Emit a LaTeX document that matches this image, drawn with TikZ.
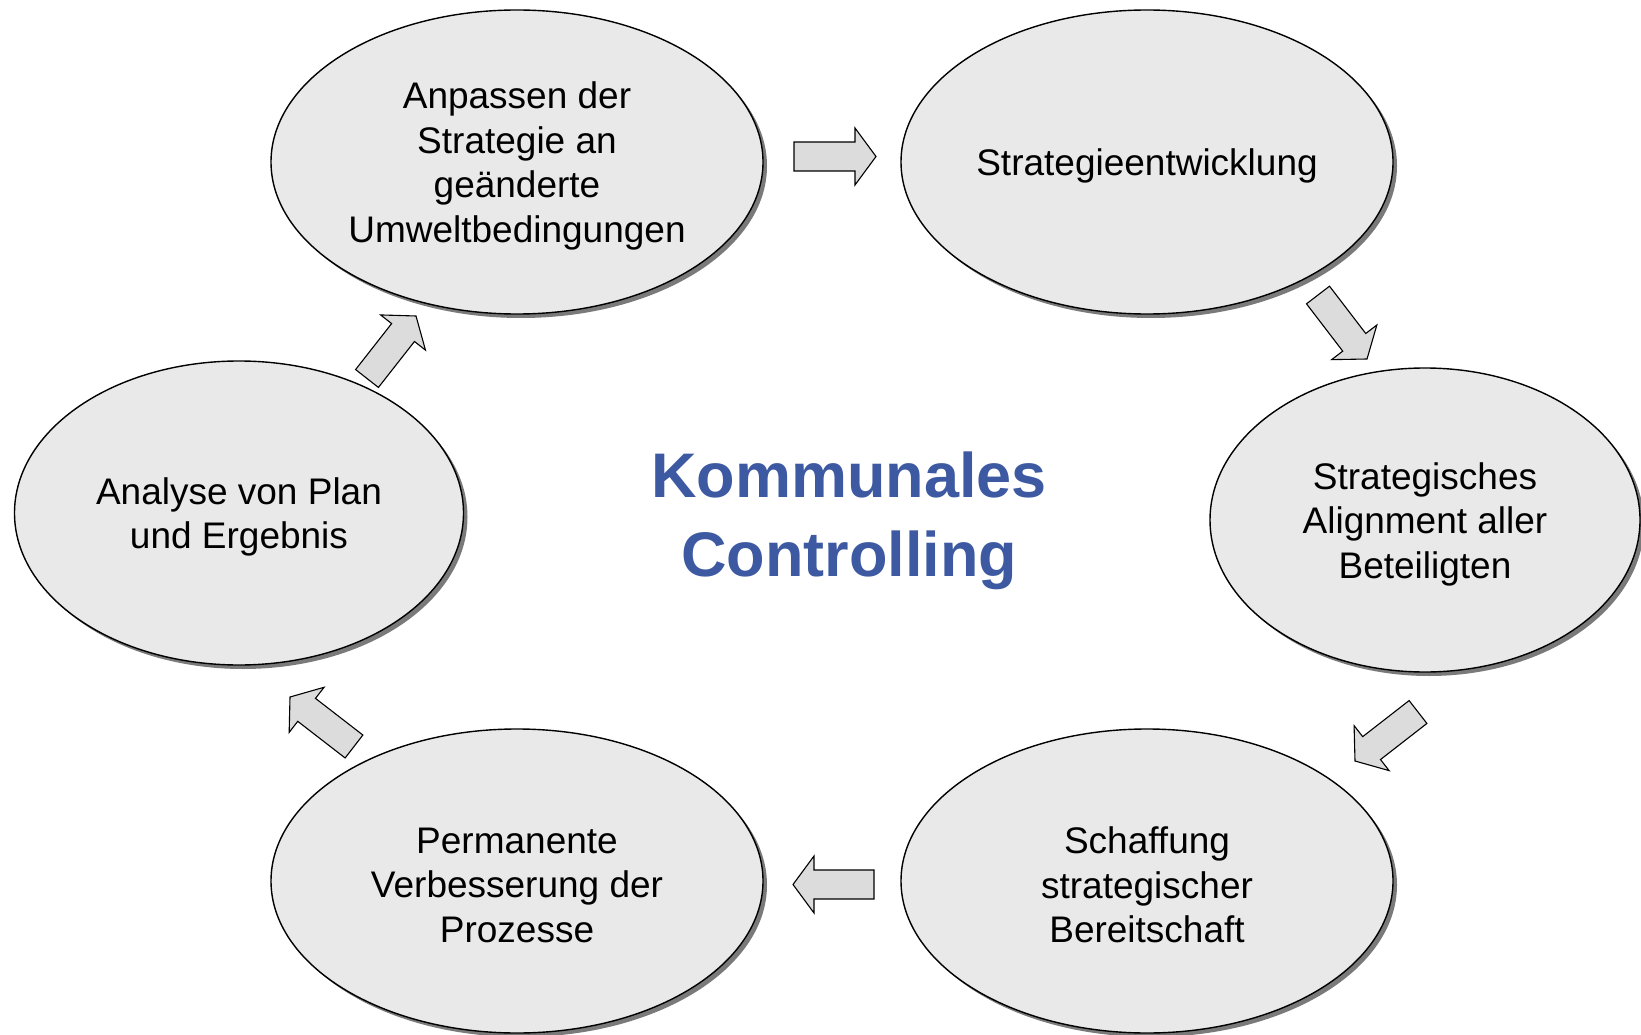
\documentclass[tikz,border=0pt]{standalone}
\usepackage{fontspec}
\setmainfont{Liberation Sans}
\usetikzlibrary{shapes.geometric,shadows,calc}
\definecolor{cyclefill}{HTML}{E9E9E9}
\definecolor{arrowfill}{HTML}{DCDCDC}
\definecolor{shadowgray}{HTML}{7A7A7A}
\definecolor{titleblue}{RGB}{60,89,162}
\tikzset{
  stage/.style={ellipse, draw=black, line width=1.4pt, fill=cyclefill,
    minimum width=492pt, minimum height=304pt, inner sep=0pt,
    drop shadow={shadow xshift=4pt, shadow yshift=-4pt, fill=shadowgray, opacity=1}},
  stagetext/.style={align=center, inner sep=0pt, font=\fontsize{37}{44.5}\selectfont},
  blockarrow/.style={draw=black, line width=1.1pt, fill=arrowfill, line join=miter},
  title/.style={text=titleblue, align=center, inner sep=0pt, font=\fontsize{63}{79}\selectfont\bfseries}
}
% block arrow from tail centre #1 to tip #2
\newcommand\cyclearrow[2]{%
  \coordinate (hb) at ($(#2)!21pt!(#1)$);
  \draw[blockarrow]
    ($(#1)!14.5pt!90:(#2)$) --
    ($(hb)!14.5pt!90:(#2)$) --
    ($(hb)!28.5pt!90:(#2)$) --
    (#2) --
    ($(hb)!28.5pt!-90:(#2)$) --
    ($(hb)!14.5pt!-90:(#2)$) --
    ($(#1)!14.5pt!-90:(#2)$) -- cycle;}
\begin{document}
\begin{tikzpicture}[x=1pt,y=-1pt]
  \useasboundingbox (0,0) rectangle (1641,1035);
  \fill[white] (0,0) rectangle (1641,1035);

  % the six stages of the cycle
  \node[stage] (adapt) at (517,162) {};
  \node[stage] (develop) at (1147,162) {};
  \node[stage, minimum width=430pt] (align) at (1425,520) {};
  \node[stage] (ready) at (1147,881) {};
  \node[stage] (improve) at (517,881) {};
  \node[stage, minimum width=449pt] (analyse) at (239,513) {};

  \node[stagetext] (adapttxt) at ([yshift=-4pt]adapt.center) {Anpassen der\\Strategie an\\geänderte\\Umweltbedingungen};
  \node[stagetext] (developtxt) at ([yshift=-4pt]develop.center) {Strategieentwicklung};
  \node[stagetext] (aligntxt) at ([yshift=-4pt]align.center) {Strategisches\\Alignment aller\\Beteiligten};
  \node[stagetext] (readytxt) at ([yshift=-4pt]ready.center) {Schaffung\\strategischer\\Bereitschaft};
  \node[stagetext] (improvetxt) at ([yshift=-4pt]improve.center) {Permanente\\Verbesserung der\\Prozesse};
  \node[stagetext] (analysetxt) at ([yshift=-4pt]analyse.center) {Analyse von Plan\\und Ergebnis};

  \node[title] (center) at (849,521) {Kommunales\\Controlling};

  % arrow tails and tips
  \coordinate (a1t) at (794,156.5);  \coordinate (a1h) at (876,156.5);
  \coordinate (a2t) at (1318,295);   \coordinate (a2h) at (1367,359);
  \coordinate (a3t) at (1418,712);   \coordinate (a3h) at (1355,761);
  \coordinate (a4t) at (874,884.5);  \coordinate (a4h) at (793,884.5);
  \coordinate (a5t) at (354,746.5);  \coordinate (a5h) at (290,697);
  \coordinate (a6t) at (367,378.5);  \coordinate (a6h) at (416,316);

  \cyclearrow{a1t}{a1h}
  \cyclearrow{a2t}{a2h}
  \cyclearrow{a3t}{a3h}
  \cyclearrow{a4t}{a4h}
  \cyclearrow{a5t}{a5h}
  \cyclearrow{a6t}{a6h}
\end{tikzpicture}
\end{document}
